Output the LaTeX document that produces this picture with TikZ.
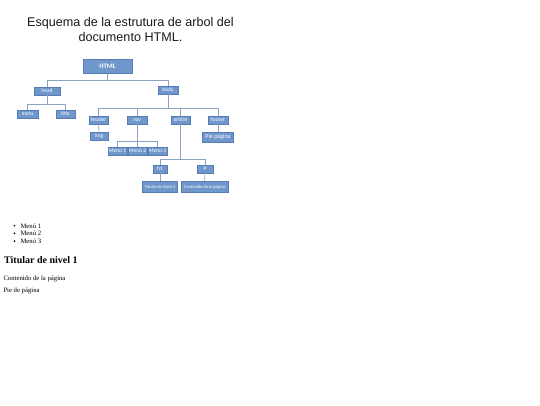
\documentclass[tikz,border=0pt]{standalone}
\usepackage{fontspec}
\setmainfont{Liberation Serif}
\newfontfamily\headfont{Liberation Sans}
\newfontfamily\boxfont{Carlito}
\usetikzlibrary{positioning}
\definecolor{boxblue}{RGB}{112,151,204}
\definecolor{boxedge}{RGB}{86,124,180}
\definecolor{linegray}{RGB}{140,163,196}
\tikzset{
  elem/.style={draw=boxedge, line width=0.5pt, fill=boxblue, text=white, inner sep=0pt,
    minimum height=8pt, font=\boxfont\fontsize{5.5}{6}\selectfont},
  smallelem/.style={elem, minimum height=11pt, font=\boxfont\fontsize{4.4}{5}\selectfont},
  tline/.style={linegray, line width=0.6pt},
  webtext/.style={anchor=base west, inner sep=0pt, font=\fontsize{6.7}{7.7}\selectfont},
  disc/.style={circle, fill=black, inner sep=0pt, minimum size=1.9pt}
}

\begin{document}
\begin{tikzpicture}[x=1pt, y=-1pt]
    \useasboundingbox (0,0) rectangle (540,405);

    % heading
    \node[anchor=north, inner sep=0pt, align=center, text=black!90,
          font=\headfont\fontsize{12.6}{14.4}\selectfont] (heading) at (130.5,17.5)
          {Esquema de la estrutura de arbol del\\documento HTML.};

    % tree
    \node[elem, minimum width=49pt, minimum height=14pt, font=\boxfont\bfseries\fontsize{6.8}{7}\selectfont] (html) at (107.5,66.5) {HTML};
    \node[elem, minimum width=26pt] (head) at (47,91) {head};
    \node[elem, minimum width=20pt] (body) at (168,90) {body};

    \node[elem, minimum width=21pt] (meta) at (27.5,114) {meta};
    \node[elem, minimum width=19pt] (title) at (65.5,114) {title};

    \node[elem, minimum width=19pt] (header) at (98.5,120) {header};
    \node[elem, minimum width=20pt] (nav) at (137,120) {nav};
    \node[elem, minimum width=19pt] (article) at (180.5,120) {article};
    \node[elem, minimum width=20pt] (footer) at (218,120) {footer};

    \node[elem, minimum width=18pt] (img) at (99,136) {img};
    \node[elem, minimum width=31pt, minimum height=10pt, font=\boxfont\fontsize{6}{6}\selectfont] (piepag) at (218,137) {Pie página};

    \node[elem, minimum width=19pt] (menu1) at (117.5,151) {Menú 1};
    \node[elem, minimum width=19pt] (menu2) at (137.5,151) {Menú 2};
    \node[elem, minimum width=19pt] (menu3) at (157.5,151) {Menú 3};

    \node[elem, minimum width=14pt] (h1) at (160,169) {h1};
    \node[elem, minimum width=16pt] (p) at (205,169) {p};

    \node[smallelem, minimum width=35pt] (titular) at (160,187) {Titular de Nivel 1};
    \node[smallelem, minimum width=47pt] (contenido) at (204.5,187) {Contenido de la página};

    \foreach \c in {head,body}
        \draw[tline] (html.south) -- ++(0,7) -| (\c.north);
    \foreach \c in {meta,title}
        \draw[tline] (head.south) -- ++(0,9) -| (\c.north);
    \foreach \c in {header,nav,article,footer}
        \draw[tline] (body.south) -- ++(0,14) -| (\c.north);
    \foreach \c in {menu1,menu2,menu3}
        \draw[tline] (nav.south) -- ++(0,17) -| (\c.north);
    \foreach \c in {h1,p}
        \draw[tline] (article.south) -- ++(0,35) -| (\c.north);
    \draw[tline] (header) -- (img);
    \draw[tline] (footer) -- (piepag);
    \draw[tline] (h1) -- (titular);
    \draw[tline] (p) -- (contenido);

    % rendered page
    \foreach \i/\y in {1/228,2/235.7,3/243.4} {
        \node[disc] (dot\i) at (14.5,\y-2.3) {};
        \node[webtext] (item\i) at (20.3,\y) {Menú \i};
    }
    \node[webtext, font=\bfseries\fontsize{10}{12}\selectfont] (titlevel) at (4,263) {Titular de nivel 1};
    \node[webtext] (content) at (3.3,280.5) {Contenido de la página};
    \node[webtext] (footnote) at (3.3,292) {Pie de página};
\end{tikzpicture}
\end{document}
